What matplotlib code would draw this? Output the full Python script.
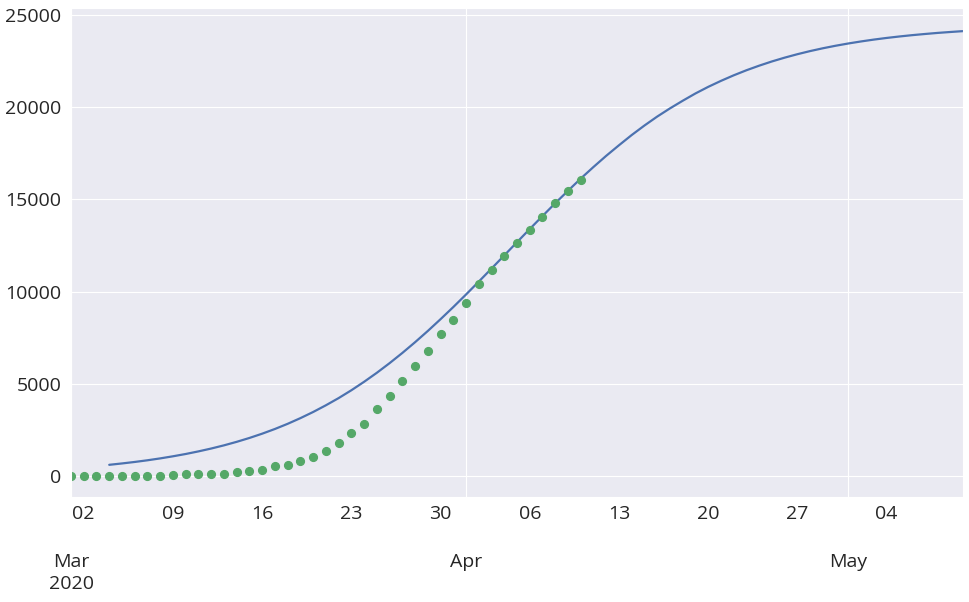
import pandas as pd
import matplotlib
matplotlib.use('Agg')
import matplotlib.pyplot as plt
import matplotlib.dates as mdates
import matplotlib.ticker as mticker
import seaborn as sns

# observed cumulative counts, daily from 1 Mar 2020
obs_start = '2020-03-01'
observed = [0, 0, 1, 2, 3, 5, 10, 17, 28, 81, 81, 84, 118, 226, 281, 335,
            552, 606, 823, 1040, 1366, 1800, 2342, 2831, 3645, 4350, 5164,
            5978, 6792, 7714, 8475, 9396, 10391, 11180, 11940, 12645, 13350,
            14055, 14815, 15465, 16060]

# fitted curve, daily from 4 Mar 2020 to 10 May 2020
fit_start = '2020-03-04'
fitted = [606, 680, 761, 852, 954, 1068, 1193, 1334, 1489, 1661, 1852, 2062,
          2294, 2549, 2829, 3137, 3470, 3834, 4224, 4649, 5108, 5597, 6119,
          6672, 7255, 7865, 8504, 9162, 9843, 10542, 11249, 11963, 12681,
          13395, 14097, 14795, 15467, 16129, 16758, 17364, 17936, 18491,
          19007, 19491, 19935, 20349, 20745, 21102, 21427, 21728, 22003,
          22252, 22481, 22687, 22874, 23044, 23196, 23333, 23456, 23567,
          23667, 23756, 23835, 23907, 23970, 24029, 24079, 24126]

obs_dates = pd.date_range(obs_start, periods=len(observed), freq='D')
fit_dates = pd.date_range(fit_start, periods=len(fitted), freq='D')

sns.set_style('darkgrid')
plt.rcParams['font.family'] = ['Open Sans', 'DejaVu Sans']

fig, ax = plt.subplots(figsize=(9.7, 6.02), dpi=100)
fig.subplots_adjust(left=0.0732, right=0.9928, top=0.9867, bottom=0.1744)

ax.plot(fit_dates, fitted, color='#4C72B0', lw=1.6)
ax.plot(obs_dates, observed, 'o', color='#55A868', ms=5.6)

ax.set_xlim(obs_dates[0], fit_dates[-1])
ax.set_ylim(-1140, 25380)


def month_label(x, pos):
    d = mdates.num2date(x)
    if pos == 0:
        return d.strftime('%b\n%Y')
    return d.strftime('%b')


ax.xaxis.set_major_locator(mdates.MonthLocator())
ax.xaxis.set_major_formatter(mticker.FuncFormatter(month_label))
ax.xaxis.set_minor_locator(mdates.WeekdayLocator(byweekday=mdates.MO))
ax.xaxis.set_minor_formatter(mdates.DateFormatter('%d'))
ax.yaxis.set_major_locator(mticker.MultipleLocator(5000))

ax.tick_params(axis='x', which='major', pad=40.5, length=0, labelsize=14, colors='#262626')
ax.tick_params(axis='x', which='minor', pad=6, length=0, labelsize=14, colors='#262626')
ax.tick_params(axis='y', pad=7, length=0, labelsize=14, colors='#262626')
for lbl in ax.get_xticklabels(which='major'):
    lbl.set_linespacing(1.3)

fig.savefig('out.png', dpi=100)
